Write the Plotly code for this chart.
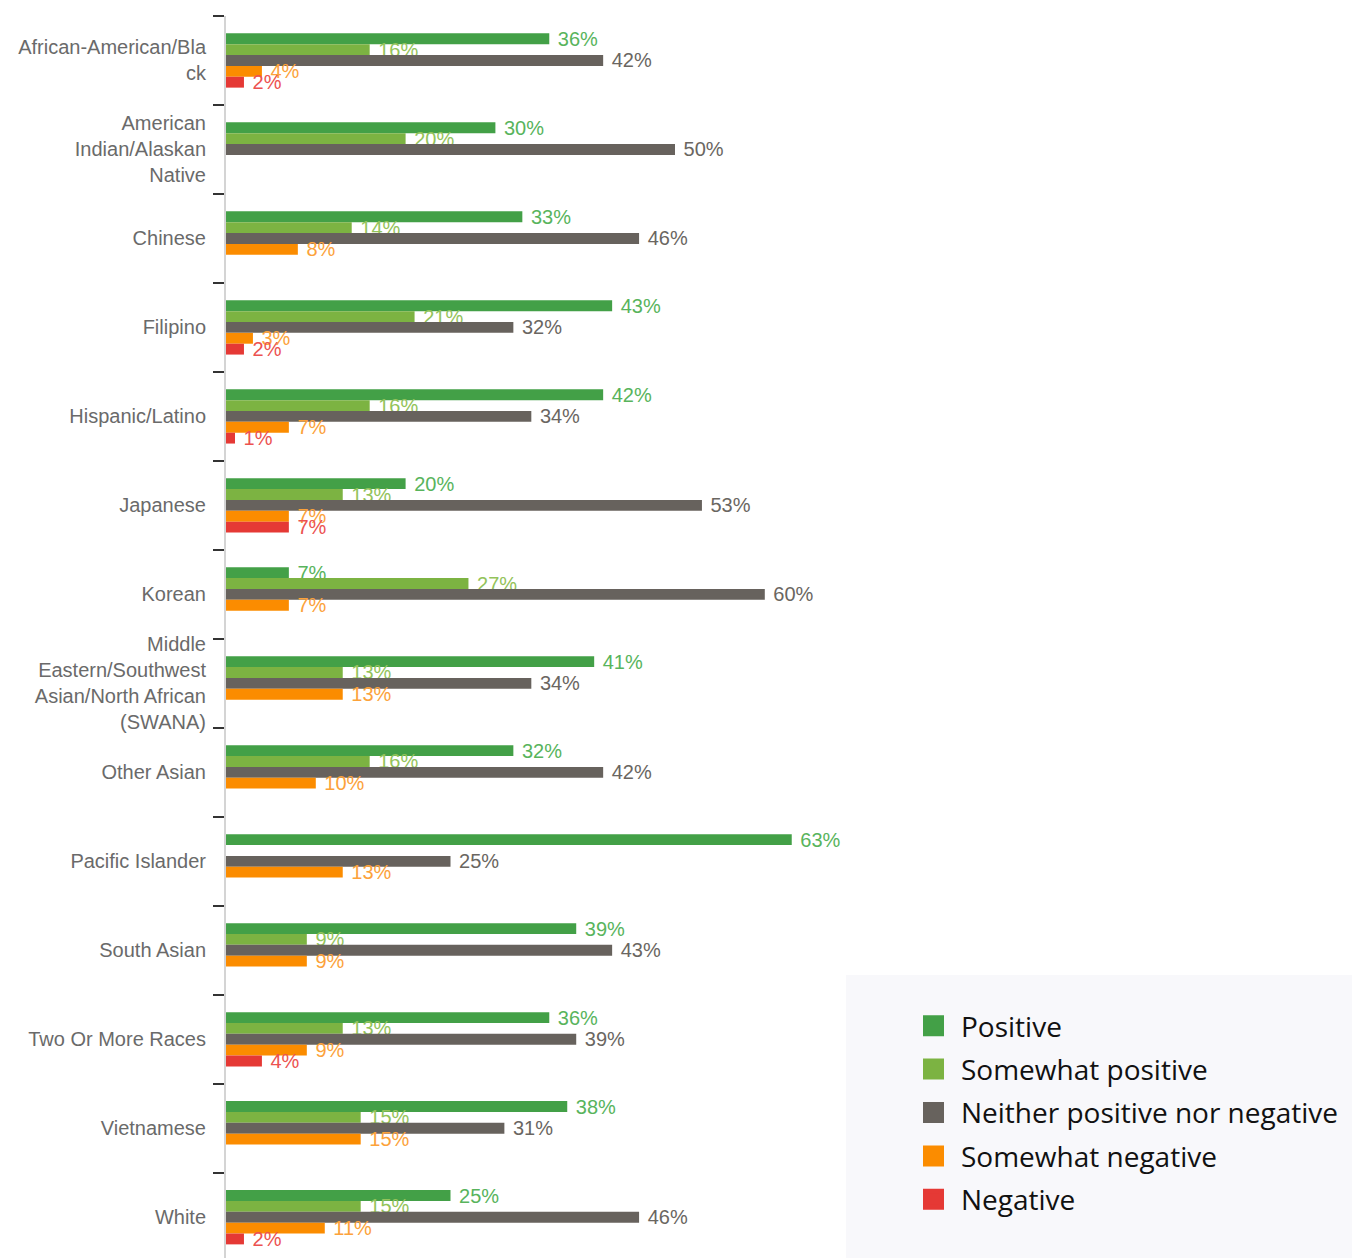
import plotly.graph_objects as go

categories = [
    "African-American/Bla<br>ck",
    "American<br>Indian/Alaskan<br>Native",
    "Chinese",
    "Filipino",
    "Hispanic/Latino",
    "Japanese",
    "Korean",
    "Middle<br>Eastern/Southwest<br>Asian/North African<br>(SWANA)",
    "Other Asian",
    "Pacific Islander",
    "South Asian",
    "Two Or More Races",
    "Vietnamese",
    "White",
]

positive          = [36, 30, 33, 43, 42, 20, 7, 41, 32, 63, 39, 36, 38, 25]
somewhat_positive = [16, 20, 14, 21, 16, 13, 27, 13, 16, None, 9, 13, 15, 15]
neither           = [42, 50, 46, 32, 34, 53, 60, 34, 42, 25, 43, 39, 31, 46]
somewhat_negative = [4, None, 8, 3, 7, 7, 7, 13, 10, 13, 9, 9, 15, 11]
negative          = [2, None, None, 2, 1, 7, None, None, None, None, None, 4, None, 2]

series_names = ["Positive", "Somewhat positive", "Neither positive nor negative",
                "Somewhat negative", "Negative"]
series_values = [positive, somewhat_positive, neither, somewhat_negative, negative]
bar_colors = ["#43a047", "#7cb342", "#67625d", "#fb8c00", "#e53935"]
text_colors = ["#58b45c", "#93c35a", "#6a6661", "#fca23a", "#ec5250"]

fig = go.Figure()
for name, vals, bc, tc in zip(series_names, series_values, bar_colors, text_colors):
    fig.add_trace(go.Bar(
        y=categories, x=vals, orientation="h", name=name,
        marker=dict(color=bc, line=dict(width=0)),
        texttemplate="\u00a0%{x}%", textposition="outside",
        textfont=dict(color=tc, size=20, family="Liberation Sans"),
        constraintext="none", cliponaxis=False, showlegend=False,
        hoverinfo="skip",
    ))

# legend proxies
for i, (name, bc) in enumerate(zip(series_names, bar_colors)):
    fig.add_trace(go.Scatter(
        x=[None], y=[None], mode="markers", name=name, legendgroup=f"g{i}",
        marker=dict(symbol="square", size=16, color=bc, line=dict(width=5, color=bc)),
        showlegend=True,
    ))

W, H = 1352, 1258
L, T = 226, 16
plot_w = W - L
plot_h = H - T
cat_px = 88.98

fig.update_layout(
    width=W, height=H,
    margin=dict(l=L, r=0, t=T, b=0, pad=0),
    paper_bgcolor="white", plot_bgcolor="white",
    barmode="group", bargap=0.39, bargroupgap=0.0,
    font=dict(family="Liberation Sans", size=20, color="#666666"),
    xaxis=dict(range=[0, plot_w / 8.98], visible=False, showgrid=False, zeroline=False),
    yaxis=dict(
        type="category", categoryorder="array", categoryarray=categories,
        range=[plot_h / cat_px - 0.5, -0.5],
        tickson="boundaries", ticks="outside", ticklen=11, tickwidth=2, tickcolor="#333333",
        showline=True, linecolor="#d4d4d4", linewidth=2,
        showgrid=False, zeroline=False,
        tickfont=dict(family="Liberation Sans", size=20, color="#6a6a6a"),
        ticklabelstandoff=14,
    ),
    legend=dict(
        x=(906 - L) / plot_w, y=(H - 1001) / plot_h, xanchor="left", yanchor="top",
        bgcolor="rgba(0,0,0,0)", borderwidth=0,
        font=dict(family="Open Sans", size=28, color="#111111"),
        traceorder="grouped", tracegroupgap=4, itemwidth=45,
    ),
    shapes=[dict(
        type="rect", xref="paper", yref="paper",
        x0=(846 - L) / plot_w, x1=1.0, y0=0, y1=(H - 975) / plot_h,
        fillcolor="#f8f8fb", line=dict(width=0), layer="below",
    )],
)

fig.write_html("out.html", config={"displayModeBar": False},
               post_script="document.body.style.margin='0';")
